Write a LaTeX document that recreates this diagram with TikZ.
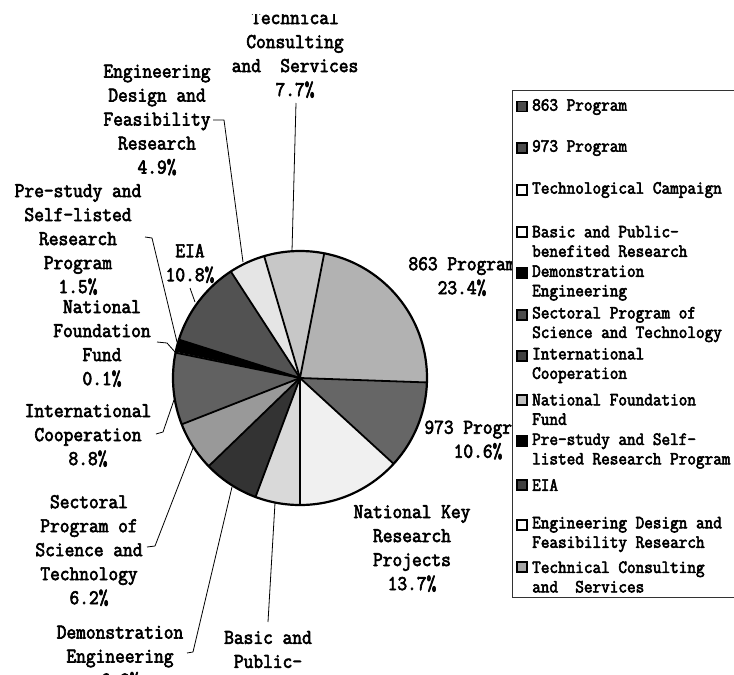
\documentclass[tikz,border=0pt]{standalone}
\usepackage{fontspec}
\newfontfamily\labfont{Latin Modern Mono}[FakeBold=3, FakeStretch=0.9]
\begin{document}
\begin{tikzpicture}[x=1pt,y=-1pt,
  lab/.style={font=\labfont\fontsize{21}{24}\selectfont, align=center, inner sep=0pt},
  leg/.style={font=\labfont\fontsize{18.6}{19.5}\selectfont, align=left, anchor=west, inner sep=0pt},
  lead/.style={line width=0.8pt, line join=round},
  mk/.style={minimum size=10pt, inner sep=0pt, draw=black, line width=1.3pt},
  sep/.style={line width=1.8pt},
]
\useasboundingbox (0,0) rectangle (734,675);
\clip (0,14.5) rectangle (734,675);

% ---------- pie ----------
\begin{scope}[shift={(300,378)}, yscale=-1]
  \coordinate (O) at (0,0);
  \foreach \a/\b/\c in {79/-2/black!30, -2/-42.5/black!60, -42.5/-90/black!6,
      -90/-110.5/black!15, -110.5/-136/black!80, -136/-158.6/black!40,
      -158.6/-191.5/black!62, -191.5/-191.9/black, -191.9/-197.6/black,
      -197.6/-237/black!68, -237/-253.6/black!10, -253.6/-281/black!22}
    \fill[\c] (O) -- (\a:127) arc[start angle=\a, end angle=\b, radius=127] -- cycle;
  \foreach \a in {79,-2,-42.5,-90,-110.5,-136,-158.6,-191.5,-197.6,-237,-253.6}
    \draw[sep] (O) -- (\a:127);
  \draw[line width=2.2pt] (O) circle[radius=127];
\end{scope}

% ---------- labels ----------
\node[lab] (tech) at (295,54.5) {Technical\\Consulting\\and\ \ Services\\7.7\%};
\node[lab] (eng) at (157,120) {Engineering\\Design and\\Feasibility\\Research\\4.9\%};
\node[lab] (pre) at (78,239.5) {Pre-study and\\Self-listed\\Research\\Program\\1.5\%};
\node[lab] (eia) at (190,263.5) {EIA\\10.8\%};
\node[lab] (nff) at (102,343.5) {National\\Foundation\\Fund\\0.1\%};
\node[lab] (intl) at (88,435.5) {International\\Cooperation\\8.8\%};
\node[lab] (sect) at (89,550.5) {Sectoral\\Program of\\Science and\\Technology\\6.2\%};
\node[lab] (demo) at (120,657) {Demonstration\\Engineering\\6.8\%};
\node[lab] (basic) at (268,649.5) {Basic and\\Public-};
\node[lab] (p863) at (462,276.5) {863 Program\\23.4\%};
\node[lab] (p973) at (478,440) {973 Program\\10.6\%};
\node[lab] (nkr) at (412,548.5) {National Key\\Research\\Projects\\13.7\%};

% ---------- leader lines ----------
\coordinate (techA) at (296,103);  \coordinate (techB) at (292,251);
\coordinate (engA) at (213,120);   \coordinate (engH) at (224,120);  \coordinate (engB) at (243,262);
\coordinate (preA) at (145,237);   \coordinate (preH) at (152,238);  \coordinate (preB) at (177,342);
\coordinate (eiaA) at (190,288);   \coordinate (eiaB) at (195,302);
\coordinate (nffA) at (157,342);   \coordinate (nffH) at (167,343);  \coordinate (nffB) at (175,352);
\coordinate (intlA) at (156,434);  \coordinate (intlH) at (163,432); \coordinate (intlB) at (174,400);
\coordinate (sectA) at (147,547);  \coordinate (sectH) at (155,546); \coordinate (sectB) at (193,448);
\coordinate (demoA) at (187,653);  \coordinate (demoH) at (193,652); \coordinate (demoB) at (232,487);
\coordinate (basicA) at (268,622); \coordinate (basicB) at (275,503);
\draw[lead] (techA) -- (techB);
\draw[lead] (engA) -- (engH) -- (engB);
\draw[lead] (preA) -- (preH) -- (preB);
\draw[lead] (eiaA) -- (eiaB);
\draw[lead] (nffA) -- (nffH) -- (nffB);
\draw[lead] (intlA) -- (intlH) -- (intlB);
\draw[lead] (sectA) -- (sectH) -- (sectB);
\draw[lead] (demoA) -- (demoH) -- (demoB);
\draw[lead] (basicA) -- (basicB);

% ---------- legend ----------
\node[draw=black!80, fill=white, line width=0.8pt, minimum width=250pt, minimum height=507pt,
      anchor=north west, inner sep=0pt] (legend) at (512,90) {};
\node[mk, fill=black!70] (m1) at (522,106.5) {};
\node[leg] (l1) at (532,107) {863 Program};
\node[mk, fill=black!70] (m2) at (522,148) {};
\node[leg] (l2) at (532,148) {973 Program};
\node[mk, fill=white, line width=1.8pt] (m3) at (522,190) {};
\node[leg] (l3) at (532,190) {Technological Campaign};
\node[mk, fill=white, line width=1.8pt] (m4) at (522,232) {};
\node[leg] (l4) at (532,241.5) {Basic and Public-\\benefited Research};
\node[mk, fill=black] (m5) at (522,273) {};
\node[leg] (l5) at (532,283) {Demonstration\\Engineering};
\node[mk, fill=black!70] (m6) at (522,315) {};
\node[leg] (l6) at (532,324.5) {Sectoral Program of\\Science and Technology};
\node[mk, fill=black!75] (m7) at (522,356) {};
\node[leg] (l7) at (532,365.5) {International\\Cooperation};
\node[mk, fill=black!25, line width=1.8pt] (m8) at (522,400) {};
\node[leg] (l8) at (532,409.5) {National Foundation\\Fund};
\node[mk, fill=black] (m9) at (522,441) {};
\node[leg] (l9) at (532,451) {Pre-study and Self-\\listed Research Program};
\node[mk, fill=black!75] (m10) at (522,485) {};
\node[leg] (l10) at (532,485) {EIA};
\node[mk, fill=white, line width=1.8pt] (m11) at (522,525) {};
\node[leg] (l11) at (532,534.5) {Engineering Design and\\Feasibility Research};
\node[mk, fill=black!35, line width=1.8pt] (m12) at (522,567) {};
\node[leg] (l12) at (532,577) {Technical Consulting\\and\ \ Services};
\end{tikzpicture}
\end{document}
